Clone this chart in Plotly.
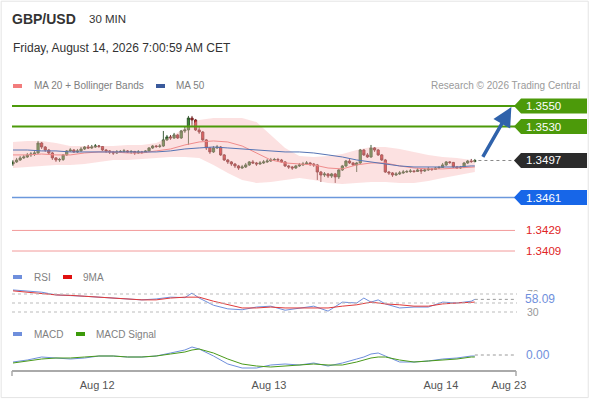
import plotly.graph_objects as go

# ── data ─────────────────────────────────────────────────────────────────────
# 30-min GBP/USD candles, index 0 = Aug 11 12:00
opens = [
    1.34936, 1.34956, 1.34975, 1.34995, 1.35004, 1.35024, 1.35033, 1.35043, 1.35140, 1.35101,
    1.35072, 1.35043, 1.34995, 1.34975, 1.34980, 1.35024, 1.35063, 1.35072, 1.35053, 1.35063,
    1.35082, 1.35101, 1.35092, 1.35101, 1.35111, 1.35106, 1.35072, 1.35063, 1.35053, 1.35043,
    1.35053, 1.35058, 1.35063, 1.35053, 1.35058, 1.35043, 1.35053, 1.35048, 1.35063, 1.35092,
    1.35111, 1.35106, 1.35111, 1.35170, 1.35199, 1.35189, 1.35218, 1.35189, 1.35257, 1.35267,
    1.35383, 1.35364, 1.35267, 1.35247, 1.35170, 1.35092, 1.35053, 1.35092, 1.35101, 1.35024,
    1.34975, 1.34956, 1.34936, 1.34917, 1.34897, 1.34907, 1.34927, 1.34956, 1.34946, 1.34936,
    1.34946, 1.34956, 1.34965, 1.34975, 1.34980, 1.34975, 1.34956, 1.34917, 1.34907, 1.34897,
    1.34917, 1.34927, 1.34936, 1.34946, 1.34936, 1.34927, 1.34858, 1.34829, 1.34839, 1.34819,
    1.34839, 1.34810, 1.34878, 1.34917, 1.34965, 1.34946, 1.34927, 1.34946, 1.35072, 1.35024,
    1.35004, 1.35092, 1.35072, 1.35024, 1.34975, 1.34858, 1.34849, 1.34829, 1.34839, 1.34849,
    1.34858, 1.34863, 1.34868, 1.34863, 1.34878, 1.34868, 1.34878, 1.34888, 1.34883, 1.34897,
    1.34902, 1.34927, 1.34956, 1.34951, 1.34907, 1.34897, 1.34902, 1.34946, 1.34965, 1.34960,
]
highs = [
    1.34975, 1.34995, 1.35014, 1.35024, 1.35043, 1.35053, 1.35063, 1.35160, 1.35150, 1.35111,
    1.35082, 1.35053, 1.35004, 1.34995, 1.35033, 1.35072, 1.35092, 1.35082, 1.35082, 1.35101,
    1.35111, 1.35121, 1.35121, 1.35130, 1.35121, 1.35111, 1.35082, 1.35072, 1.35063, 1.35072,
    1.35072, 1.35082, 1.35072, 1.35072, 1.35063, 1.35072, 1.35063, 1.35072, 1.35101, 1.35121,
    1.35121, 1.35130, 1.35257, 1.35218, 1.35218, 1.35238, 1.35228, 1.35267, 1.35296, 1.35403,
    1.35403, 1.35374, 1.35296, 1.35257, 1.35179, 1.35101, 1.35111, 1.35121, 1.35111, 1.35033,
    1.34985, 1.34965, 1.34946, 1.34927, 1.34927, 1.34946, 1.34965, 1.34975, 1.34956, 1.34965,
    1.34975, 1.34985, 1.34995, 1.34995, 1.34995, 1.34985, 1.34965, 1.34927, 1.34917, 1.34927,
    1.34946, 1.34956, 1.34965, 1.34956, 1.34946, 1.34936, 1.34868, 1.34858, 1.34849, 1.34849,
    1.34849, 1.34888, 1.34927, 1.34975, 1.34985, 1.34956, 1.34956, 1.35082, 1.35082, 1.35043,
    1.35121, 1.35101, 1.35082, 1.35033, 1.34985, 1.34868, 1.34858, 1.34858, 1.34868, 1.34878,
    1.34878, 1.34888, 1.34878, 1.34897, 1.34888, 1.34897, 1.34907, 1.34897, 1.34907, 1.34917,
    1.34946, 1.34965, 1.34965, 1.34956, 1.34917, 1.34917, 1.34956, 1.34975, 1.34985, 1.34985,
]
lows = [
    1.34917, 1.34946, 1.34965, 1.34985, 1.34995, 1.35004, 1.35014, 1.35033, 1.35082, 1.35053,
    1.35024, 1.34975, 1.34956, 1.34956, 1.34965, 1.35014, 1.35053, 1.35043, 1.35043, 1.35053,
    1.35072, 1.35082, 1.35082, 1.35092, 1.35092, 1.35063, 1.35043, 1.35033, 1.35024, 1.35033,
    1.35043, 1.35043, 1.35043, 1.35033, 1.35024, 1.35033, 1.35033, 1.35043, 1.35053, 1.35082,
    1.35092, 1.35092, 1.35101, 1.35160, 1.35170, 1.35179, 1.35179, 1.35179, 1.35238, 1.35121,
    1.35296, 1.35257, 1.35228, 1.35160, 1.35072, 1.35033, 1.35043, 1.35082, 1.35014, 1.34965,
    1.34936, 1.34917, 1.34897, 1.34878, 1.34888, 1.34897, 1.34917, 1.34936, 1.34917, 1.34927,
    1.34936, 1.34946, 1.34956, 1.34965, 1.34956, 1.34946, 1.34907, 1.34888, 1.34878, 1.34888,
    1.34907, 1.34917, 1.34927, 1.34917, 1.34907, 1.34781, 1.34762, 1.34810, 1.34800, 1.34800,
    1.34752, 1.34790, 1.34868, 1.34907, 1.34936, 1.34917, 1.34858, 1.34936, 1.35014, 1.34995,
    1.34995, 1.35053, 1.35014, 1.34965, 1.34849, 1.34829, 1.34810, 1.34819, 1.34829, 1.34839,
    1.34849, 1.34849, 1.34849, 1.34858, 1.34839, 1.34858, 1.34868, 1.34868, 1.34878, 1.34888,
    1.34897, 1.34917, 1.34936, 1.34897, 1.34888, 1.34888, 1.34897, 1.34936, 1.34946, 1.34951,
]
closes = [
    1.34956, 1.34975, 1.34995, 1.35004, 1.35024, 1.35033, 1.35043, 1.35140, 1.35101, 1.35072,
    1.35043, 1.34995, 1.34975, 1.34980, 1.35024, 1.35063, 1.35072, 1.35053, 1.35063, 1.35082,
    1.35101, 1.35092, 1.35101, 1.35111, 1.35106, 1.35072, 1.35063, 1.35053, 1.35043, 1.35053,
    1.35058, 1.35063, 1.35053, 1.35058, 1.35043, 1.35053, 1.35048, 1.35063, 1.35092, 1.35111,
    1.35106, 1.35111, 1.35170, 1.35199, 1.35189, 1.35218, 1.35189, 1.35257, 1.35267, 1.35383,
    1.35364, 1.35267, 1.35247, 1.35170, 1.35092, 1.35053, 1.35092, 1.35101, 1.35024, 1.34975,
    1.34956, 1.34936, 1.34917, 1.34897, 1.34907, 1.34927, 1.34956, 1.34946, 1.34936, 1.34946,
    1.34956, 1.34965, 1.34975, 1.34980, 1.34975, 1.34956, 1.34917, 1.34907, 1.34897, 1.34917,
    1.34927, 1.34936, 1.34946, 1.34936, 1.34927, 1.34858, 1.34829, 1.34839, 1.34819, 1.34839,
    1.34810, 1.34878, 1.34917, 1.34965, 1.34946, 1.34927, 1.34946, 1.35072, 1.35024, 1.35004,
    1.35092, 1.35072, 1.35024, 1.34975, 1.34858, 1.34849, 1.34829, 1.34839, 1.34849, 1.34858,
    1.34863, 1.34868, 1.34863, 1.34878, 1.34868, 1.34878, 1.34888, 1.34883, 1.34897, 1.34902,
    1.34927, 1.34956, 1.34951, 1.34907, 1.34897, 1.34902, 1.34946, 1.34965, 1.34960, 1.34970,
]
candle_idx = list(range(len(closes)))

# moving averages and bands, read every 4th candle
ma_idx = [0, 4, 8, 12, 16, 20, 24, 28, 32, 36, 40, 44, 48, 52, 56, 60, 64, 68, 72, 76,
          80, 84, 88, 92, 96, 100, 104, 108, 112, 116, 120, 124, 128, 129]
ma20 = [1.35024, 1.35024, 1.35033, 1.35024, 1.35024, 1.35043, 1.35053, 1.35053, 1.35043, 1.35043,
        1.35063, 1.35082, 1.35121, 1.35150, 1.35160, 1.35150, 1.35111, 1.35043, 1.34975, 1.34946,
        1.34936, 1.34927, 1.34897, 1.34888, 1.34927, 1.34946, 1.34946, 1.34917, 1.34897, 1.34888,
        1.34888, 1.34897, 1.34907, 1.34907]
ma50 = [1.35072, 1.35072, 1.35063, 1.35063, 1.35053, 1.35053, 1.35053, 1.35053, 1.35053, 1.35053,
        1.35053, 1.35063, 1.35082, 1.35092, 1.35101, 1.35092, 1.35082, 1.35072, 1.35063, 1.35053,
        1.35053, 1.35043, 1.35024, 1.35004, 1.34975, 1.34956, 1.34936, 1.34917, 1.34907, 1.34907,
        1.34907, 1.34907, 1.34917, 1.34917]
bb_upper = [1.35150, 1.35160, 1.35160, 1.35140, 1.35111, 1.35111, 1.35111, 1.35111, 1.35121, 1.35121,
            1.35140, 1.35199, 1.35286, 1.35364, 1.35383, 1.35383, 1.35383, 1.35344, 1.35218, 1.35092,
            1.35014, 1.35004, 1.35014, 1.35033, 1.35072, 1.35101, 1.35101, 1.35082, 1.35053, 1.35024,
            1.35004, 1.34995, 1.34975, 1.34975]
bb_lower = [1.34897, 1.34907, 1.34917, 1.34927, 1.34927, 1.34936, 1.34956, 1.34975, 1.34975, 1.34985,
            1.34995, 1.35004, 1.35004, 1.34995, 1.34927, 1.34849, 1.34781, 1.34752, 1.34761, 1.34781,
            1.34800, 1.34781, 1.34752, 1.34742, 1.34752, 1.34761, 1.34761, 1.34752, 1.34752, 1.34771,
            1.34800, 1.34829, 1.34858, 1.34858]
rsi_9ma = [77, 74, 72, 68, 67, 65, 63, 61, 59, 57, 57, 61, 63, 63, 54, 46, 39, 39, 41, 39,
           39, 39, 39, 43, 46, 52, 48, 46, 43, 43, 48, 50, 52, 52]

# oscillators
osc_idx = [0, 4, 8, 12, 16, 20, 24, 28, 32, 36, 40, 44, 48, 50, 52, 56, 60, 64, 68, 72,
           76, 80, 84, 88, 92, 96, 98, 100, 102, 104, 108, 112, 116, 120, 124, 128, 129]
rsi = [79, 77, 74, 68, 67, 65, 63, 61, 59, 57, 59, 63, 62, 72, 61, 45, 37, 35, 41, 43,
       34, 39, 43, 32, 52, 50, 61, 52, 57, 48, 39, 41, 41, 52, 50, 54, 58.09]
macd = [-0.00021, -0.00015, -0.00006, -0.00009, -0.00012, -0.00009, -0.00003, -0.00003, -0.00006, -0.00006,
        -0.00003, 0.00006, 0.00015, 0.00024, 0.00018, -0.00003, -0.00027, -0.00039, -0.00039, -0.00030,
        -0.00027, -0.00030, -0.00024, -0.00033, -0.00024, -0.00012, -0.00006, 0.00003, 0.00006, -0.00003,
        -0.00021, -0.00021, -0.00018, -0.00012, -0.00009, -0.00003, -0.00003]
macd_signal = [-0.00024, -0.00018, -0.00012, -0.00009, -0.00009, -0.00006, -0.00003, -0.00003, -0.00006, -0.00006,
               -0.00003, 0.00003, 0.00009, 0.00015, 0.00018, 0.00006, -0.00012, -0.00027, -0.00033, -0.00036,
               -0.00033, -0.00030, -0.00027, -0.00030, -0.00030, -0.00021, -0.00015, -0.00009, -0.00006, -0.00006,
               -0.00015, -0.00021, -0.00018, -0.00015, -0.00012, -0.00006, -0.00006]

# levels
resistances = [1.3550, 1.3530]
support_main = 1.3461
supports_minor = [1.3429, 1.3409]
last_price = 1.3497

tick_idx = [23.5, 71.5, 119.5, 138.5]
tick_text = ["Aug 12", "Aug 13", "Aug 14", "Aug 23"]

# ── styling ──────────────────────────────────────────────────────────────────
# page gets squeezed from 600px to the 590px shot, so draw 600 wide and
# place everything in fractions of the 590px reference
W, H = 590, 400
FIG_W = 600
FONT = "Liberation Sans, Arial, sans-serif"
GREEN = "#4c9a0a"
BLUE_TAG = "#1766e8"
DARK_TAG = "#2b2b2b"
RED_LVL = "#e02424"
OSC_BLUE = "#6f8fdc"

def px(x):
    return x / W

def py(y):
    return 1 - y / H

X_DOM = [px(12), px(516)]
X_RANGE = [-0.28, 140.5]

fig = go.Figure()

# Bollinger band fill
fig.add_trace(go.Scatter(x=ma_idx, y=bb_upper, mode="lines", line=dict(width=0),
                         hoverinfo="skip", xaxis="x", yaxis="y"))
fig.add_trace(go.Scatter(x=ma_idx, y=bb_lower, mode="lines", line=dict(width=0),
                         fill="tonexty", fillcolor="rgba(248,180,180,0.40)",
                         hoverinfo="skip", xaxis="x", yaxis="y"))

fig.add_trace(go.Candlestick(
    x=candle_idx, open=opens, high=highs, low=lows, close=closes,
    increasing=dict(fillcolor="#3a8c32", line=dict(color="#2b4f27", width=0.9)),
    decreasing=dict(fillcolor="#d42a2a", line=dict(color="#6e2424", width=0.9)),
    whiskerwidth=0, xaxis="x", yaxis="y",
))

fig.add_trace(go.Scatter(x=ma_idx, y=ma20, mode="lines",
                         line=dict(color="#f08c8c", width=1), xaxis="x", yaxis="y"))
fig.add_trace(go.Scatter(x=ma_idx, y=ma50, mode="lines",
                         line=dict(color="#5674b4", width=1), xaxis="x", yaxis="y"))

# RSI panel
fig.add_trace(go.Scatter(x=osc_idx, y=rsi, mode="lines",
                         line=dict(color=OSC_BLUE, width=1), xaxis="x2", yaxis="y2"))
fig.add_trace(go.Scatter(x=ma_idx, y=rsi_9ma, mode="lines",
                         line=dict(color="#e03a3a", width=1), xaxis="x2", yaxis="y2"))

# MACD panel
fig.add_trace(go.Scatter(x=osc_idx, y=macd, mode="lines",
                         line=dict(color=OSC_BLUE, width=1), xaxis="x3", yaxis="y3"))
fig.add_trace(go.Scatter(x=osc_idx, y=macd_signal, mode="lines",
                         line=dict(color="#4a9a1a", width=1), xaxis="x3", yaxis="y3"))

shapes = []
annotations = []

# level lines
for lvl in resistances:
    shapes.append(dict(type="line", xref="paper", yref="y", x0=px(12), x1=px(515),
                       y0=lvl, y1=lvl, line=dict(color=GREEN, width=2)))
shapes.append(dict(type="line", xref="paper", yref="y", x0=px(12), x1=px(515),
                   y0=support_main, y1=support_main, line=dict(color="#6b98dc", width=1.5)))
for lvl in supports_minor:
    shapes.append(dict(type="line", xref="paper", yref="y", x0=px(12), x1=px(515),
                       y0=lvl, y1=lvl, line=dict(color="#f29a9a", width=1)))
shapes.append(dict(type="line", xref="x", yref="y", x0=candle_idx[-1] + 1, x1=140.2,
                   y0=last_price, y1=last_price, line=dict(color="#888", width=1, dash="dot")))


def tag(level, color):
    h = 0.00073
    xt, xa, xb = px(514), px(521), px(587)
    path = (f"M {xt},{level} L {xa},{level + h} L {xb},{level + h} "
            f"L {xb},{level - h} L {xa},{level - h} Z")
    shapes.append(dict(type="path", xref="paper", yref="y", path=path,
                       fillcolor=color, line=dict(width=0)))
    annotations.append(dict(xref="paper", yref="y", x=px(524), y=level, xanchor="left",
                            yanchor="middle", text=f"{level:.4f}", showarrow=False,
                            font=dict(color="white", size=11.5, family=FONT)))


for lvl in resistances:
    tag(lvl, GREEN)
tag(last_price, DARK_TAG)
tag(support_main, BLUE_TAG)
for lvl in supports_minor:
    annotations.append(dict(xref="paper", yref="y", x=px(524), y=lvl, xanchor="left",
                            yanchor="middle", text=f"{lvl:.4f}", showarrow=False,
                            font=dict(color=RED_LVL, size=11.5, family=FONT)))

# forecast arrow towards first resistance
annotations.append(dict(xref="x", yref="y", axref="x", ayref="y",
                        x=139.2, y=resistances[0] - 0.0001, ax=131.0, ay=last_price + 0.0002,
                        text="", showarrow=True, arrowhead=2, arrowsize=1.1, arrowwidth=3.5,
                        arrowcolor="#2f62ab"))

# RSI guides
for v in [70, 50, 30]:
    shapes.append(dict(type="line", xref="paper", yref="y2", x0=px(12), x1=px(517),
                       y0=v, y1=v, line=dict(color="#bbbbbb", width=1, dash="dot")))
for v in [70, 30]:
    annotations.append(dict(xref="paper", yref="y2", x=px(525), y=v, xanchor="left",
                            yanchor="middle", text=str(v), showarrow=False,
                            font=dict(color="#999", size=10.5, family=FONT)))
shapes.append(dict(type="line", xref="x2", yref="y2", x0=osc_idx[-1], x1=140.5,
                   y0=rsi[-1], y1=rsi[-1], line=dict(color="#999", width=1, dash="dot")))
annotations.append(dict(xref="paper", yref="y2", x=px(524), y=rsi[-1], xanchor="left",
                        yanchor="middle", text=f"{rsi[-1]:.2f}", showarrow=False,
                        bgcolor="white", borderpad=0,
                        font=dict(color=OSC_BLUE, size=12, family=FONT)))

# MACD last value
shapes.append(dict(type="line", xref="x3", yref="y3", x0=osc_idx[-1], x1=140.5,
                   y0=0, y1=0, line=dict(color="#999", width=1, dash="dot")))
annotations.append(dict(xref="paper", yref="y3", x=px(524), y=0, xanchor="left",
                        yanchor="middle", text="0.00", showarrow=False,
                        font=dict(color=OSC_BLUE, size=12, family=FONT)))

# bottom axis end ticks
for xx in [12, 516]:
    shapes.append(dict(type="line", xref="paper", yref="paper", x0=px(xx), x1=px(xx),
                       y0=py(371), y1=py(376), line=dict(color="#aaa", width=1.5)))

# legends
def swatch(x0, y, color):
    shapes.append(dict(type="rect", xref="paper", yref="paper", x0=px(x0), x1=px(x0 + 9),
                       y0=py(y + 2), y1=py(y - 2), fillcolor=color, line=dict(width=0)))

def label(x, y, text, size=10, color="#808080", anchor="left", bold=False):
    annotations.append(dict(xref="paper", yref="paper", x=px(x), y=py(y), xanchor=anchor,
                            yanchor="middle", text=f"<b>{text}</b>" if bold else text,
                            showarrow=False, font=dict(color=color, size=size, family=FONT)))

swatch(13, 86, "#f27c7c")
label(32, 86, "MA 20 + Bollinger Bands")
swatch(156, 86, "#3a5a9c")
label(174, 86, "MA 50")
label(582, 86, "Research © 2026 Trading Central", color="#9a9a9a", anchor="right")

swatch(13, 277, OSC_BLUE)
label(32, 277, "RSI")
swatch(63, 277, "#e01010")
label(81, 277, "9MA")

swatch(13, 334, OSC_BLUE)
label(32, 334, "MACD")
swatch(76, 334, "#3c9a0a")
label(94, 334, "MACD Signal")

label(10, 19, "GBP/USD", size=14, color="#333", bold=True)
label(87, 19, "30 MIN", size=11.5, color="#333")
label(11, 48, "Friday, August 14, 2026 7:00:59 AM CET", size=12, color="#333")

# outer frame
shapes.append(dict(type="rect", xref="paper", yref="paper", x0=0.002, x1=0.997,
                   y0=0.006, y1=0.997, line=dict(color="#e4e4e4", width=1)))

hidden_x = dict(domain=X_DOM, range=X_RANGE, visible=False, showgrid=False)
fig.update_layout(
    width=FIG_W, height=H, autosize=False,
    margin=dict(l=0, r=0, t=0, b=0),
    plot_bgcolor="white", paper_bgcolor="white",
    showlegend=False, boxgap=0.1,
    font=dict(family=FONT),
    xaxis=dict(hidden_x, anchor="y", rangeslider=dict(visible=False)),
    xaxis2=dict(hidden_x, anchor="y2", matches="x"),
    xaxis3=dict(domain=X_DOM, range=X_RANGE, anchor="y3", matches="x", showgrid=False,
                zeroline=False, showline=True, linecolor="#aaaaaa", linewidth=1.5,
                tickvals=tick_idx, ticktext=tick_text, ticks="outside", ticklen=4,
                tickcolor="rgba(0,0,0,0)", tickfont=dict(size=11, color="#555", family=FONT)),
    yaxis=dict(domain=[py(262), py(96)], range=[1.33983, 1.35597], visible=False,
               showgrid=False),
    yaxis2=dict(domain=[py(318), py(285)], range=[16.7, 90], visible=False, showgrid=False),
    yaxis3=dict(domain=[py(370), py(341)], range=[-0.00045, 0.00042], visible=False,
                showgrid=False),
    shapes=shapes,
    annotations=annotations,
)

fig.write_html(
    "out.html",
    config={"responsive": False, "displayModeBar": False},
    post_script=("document.documentElement.style.overflow='hidden';"
                 "document.body.style.margin='0';"
                 "document.body.style.overflow='hidden';"),
)
